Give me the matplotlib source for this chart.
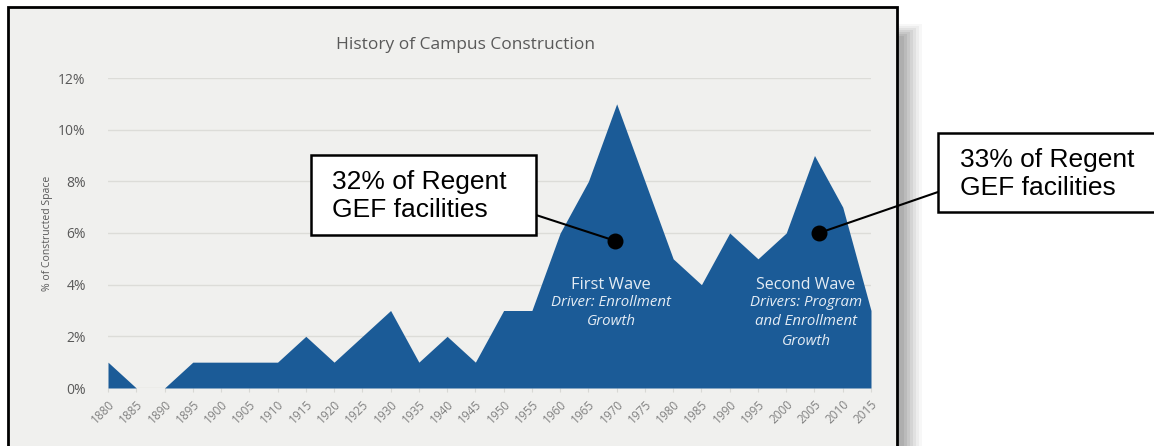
import matplotlib.pyplot as plt
from matplotlib.patches import Rectangle
import matplotlib.ticker as mticker

# ── Data ──────────────────────────────────────────────
years = list(range(1880, 2016, 5))
pct_space = [1, 0, 0, 1, 1, 1, 1, 2, 1, 2, 3, 1, 2, 1, 3, 3,
             6, 8, 11, 8, 5, 4, 6, 5, 6, 9, 7, 3]
y_ticks = [0, 2, 4, 6, 8, 10, 12]
callout_points = [(1969.7, 5.7), (2005.8, 6.0)]
callout_texts = ["32% of Regent\nGEF facilities", "33% of Regent\nGEF facilities"]

W, H = 1154, 446
fill_color = "#1b5b97"
panel_color = "#f0f0ee"
gray_text = "#595959"


def fx(px):
    return px / W


def fy(py):
    return 1 - py / H


fig = plt.figure(figsize=(W / 100, H / 100), dpi=100)
fig.patch.set_facecolor("white")

# drop shadow (soft) behind panel
for i, a in enumerate([0.06, 0.08, 0.10, 0.12, 0.14, 0.16, 0.18]):
    fig.patches.append(Rectangle((fx(30), fy(H + 20)), fx(922 - 3 * i - 30), fy(24 + 2 * i) - fy(H + 20),
                                 transform=fig.transFigure, facecolor="#7a7a7a", alpha=a,
                                 edgecolor="none", zorder=0))
# panel
fig.patches.append(Rectangle((fx(8), fy(H + 20)), fx(897 - 8), fy(7) - fy(H + 20),
                             transform=fig.transFigure, facecolor=panel_color,
                             edgecolor="black", linewidth=2, zorder=1))

ax = fig.add_axes([fx(108), fy(388), fx(871 - 108), fy(78) - fy(388)])
ax.set_facecolor("none")
ax.set_zorder(2)
ax.fill_between(years, pct_space, 0, color=fill_color, linewidth=0, zorder=2)
ax.set_xlim(1880, 2015)
ax.set_ylim(0, 12)
ax.set_xticks(years)
ax.set_xticklabels([str(y) for y in years], rotation=45, fontsize=8.5, color="#808080",
                   family="Open Sans", ha="right", rotation_mode="anchor")
ax.set_yticks(y_ticks)
ax.yaxis.set_major_formatter(mticker.FuncFormatter(lambda v, _: f"{int(v)}%"))
for lab in ax.get_yticklabels():
    lab.set_family("Open Sans")
ax.tick_params(axis="y", length=0, labelsize=10, labelcolor=gray_text, pad=16)
ax.tick_params(axis="x", length=3, color="#d8d8d4", pad=4)
ax.grid(axis="y", color="#dcdcd8", linewidth=1, zorder=0)
ax.set_axisbelow(True)
for s in ax.spines.values():
    s.set_visible(False)
ax.set_ylabel("% of Constructed Space", fontsize=7.5, color=gray_text, family="Open Sans", labelpad=4)
fig.text(fx(465), fy(45), "History of Campus Construction", ha="center", va="center",
         fontsize=12.5, color=gray_text, family="Open Sans", zorder=3)

# wave labels
wave_color = "#e4ecf4"
ax.text(1969, 4.0, "First Wave", ha="center", va="center", color=wave_color,
        fontsize=12, family="Open Sans")
ax.text(1969, 2.94, "Driver: Enrollment\nGrowth", ha="center", va="center", color=wave_color,
        fontsize=10.8, style="italic", family="Open Sans", linespacing=1.4)
ax.text(2003.5, 4.0, "Second Wave", ha="center", va="center", color=wave_color,
        fontsize=11.5, family="Open Sans")
ax.text(2003.5, 2.555, "Drivers: Program\nand Enrollment\nGrowth", ha="center", va="center",
        color=wave_color, fontsize=10.8, style="italic", family="Open Sans", linespacing=1.4)

# callouts
boxes = [(311, 155, 536, 235), (938, 133, 1165, 212)]
text_pos = [(332, 196), (960, 174)]
line_start = [(536, 215), (938, 192)]
for (bx0, by0, bx1, by1), (tx, ty), (lx, ly), (dx, dy), txt in zip(
        boxes, text_pos, line_start, callout_points, callout_texts):
    ax.annotate("", xy=(dx, dy), xycoords="data", xytext=(fx(lx), fy(ly)),
                textcoords="figure fraction",
                arrowprops=dict(arrowstyle="-", color="black", lw=1.5, shrinkA=0, shrinkB=0),
                annotation_clip=False, zorder=5)
    ax.scatter([dx], [dy], s=110, color="black", zorder=6, clip_on=False)
    fig.patches.append(Rectangle((fx(bx0), fy(by1)), fx(bx1 - bx0), fy(by0) - fy(by1),
                                 transform=fig.transFigure, facecolor="white",
                                 edgecolor="black", linewidth=1.8, zorder=7))
    fig.text(fx(tx), fy(ty), txt, ha="left", va="center", fontsize=19,
             family="Liberation Sans", color="black", linespacing=1.25, zorder=8)

plt.savefig("out.png", dpi=100)
